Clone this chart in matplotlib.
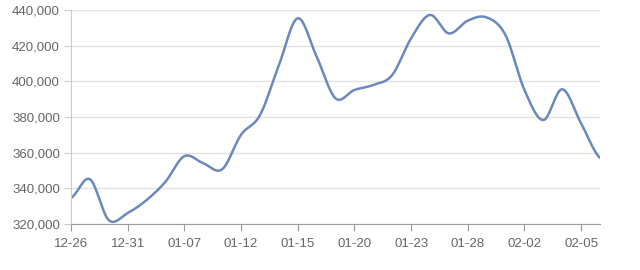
import numpy as np
import matplotlib
matplotlib.use("Agg")
import matplotlib.pyplot as plt
from matplotlib.ticker import FuncFormatter

plt.rcParams['font.family'] = ['Liberation Sans', 'DejaVu Sans']

dates = ['12-26', '12-29', '12-30', '12-31', '01-05', '01-06', '01-07', '01-08',
         '01-09', '01-12', '01-13', '01-14', '01-15', '01-16', '01-19', '01-20',
         '01-21', '01-22', '01-23', '01-26', '01-27', '01-28', '01-29', '01-30',
         '02-02', '02-03', '02-04', '02-05', '02-06']
values = [334500, 345000, 322000, 326000, 333300, 343600, 358000, 354000,
          350600, 370000, 381000, 409000, 435500, 414000, 390500, 395200,
          398000, 403600, 424200, 437400, 427000, 434200, 436000, 426000,
          395200, 378300, 395600, 376400, 357000]
label_every = 3


def smooth_curve(y, steps=20):
    # catmull-rom style smoothing, like a "smooth" line
    n = len(y)
    xs, ys = [], []
    p = np.array(y, dtype=float)
    for i in range(n - 1):
        p0 = p[i - 1] if i > 0 else p[i]
        p3 = p[i + 2] if i + 2 < n else p[i + 1]
        p1, p2 = p[i], p[i + 1]
        t = np.linspace(0, 1, steps, endpoint=False)
        seg = 0.5 * ((2 * p1) + (-p0 + p2) * t
                     + (2 * p0 - 5 * p1 + 4 * p2 - p3) * t ** 2
                     + (-p0 + 3 * p1 - 3 * p2 + p3) * t ** 3)
        xs.extend(i + t)
        ys.extend(seg)
    xs.append(n - 1)
    ys.append(p[-1])
    return np.array(xs), np.array(ys)


fig = plt.figure(figsize=(6.4, 2.7), dpi=100)
ax = fig.add_axes([71 / 640, 1 - 223.7 / 270, (600 - 71) / 640, (223.7 - 10.3) / 270])

sx, sy = smooth_curve(values)
ax.plot(sx, sy, color='#6b89bd', linewidth=1.8, solid_capstyle='round')

ax.set_xlim(0, len(dates) - 1)
ax.set_ylim(320000, 440000)
ax.set_yticks(np.arange(320000, 440001, 20000))
ax.yaxis.set_major_formatter(FuncFormatter(lambda v, p: f'{int(v):,}'))
ticks = list(range(0, len(dates), label_every))
ax.set_xticks(ticks)
ax.set_xticklabels([dates[i] for i in ticks])

ax.grid(axis='y', color='#e3e3e3', linewidth=1)
ax.set_axisbelow(True)
for s in ['top', 'right']:
    ax.spines[s].set_visible(False)
ax.spines['bottom'].set_color('#9a9a9a')
ax.spines['left'].set_color('#cccccc')
ax.tick_params(axis='x', colors='#9a9a9a', length=5, labelcolor='#666666',
               labelsize=9.5, pad=5)
ax.tick_params(axis='y', colors='#cccccc', length=5, labelcolor='#666666',
               labelsize=9.5, pad=3)

fig.savefig('out.png', dpi=100)
